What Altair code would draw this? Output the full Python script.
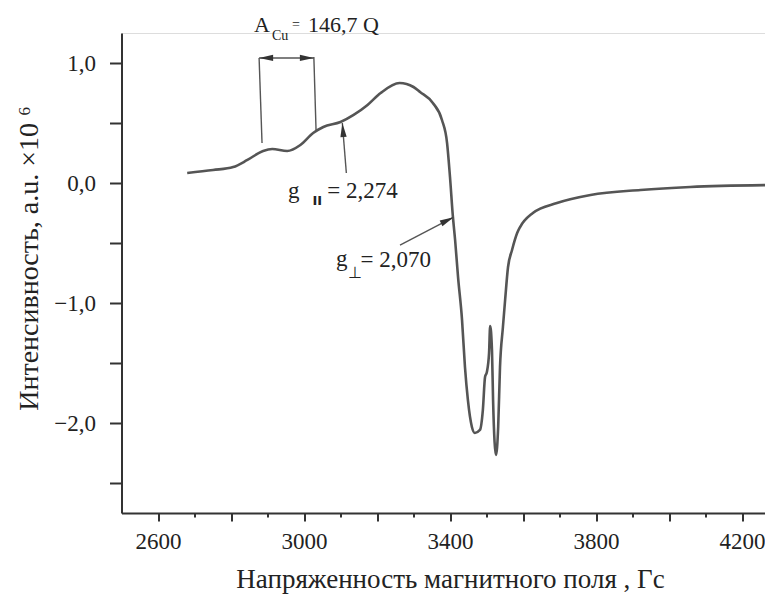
import altair as alt
import pandas as pd

# ---- data ----
field = [2680, 2751, 2806, 2845, 2888, 2913, 2954, 2990, 3025, 3053, 3100, 3136, 3174,
         3210, 3262, 3300, 3318, 3353, 3378, 3392, 3400, 3408, 3414, 3422, 3433, 3441, 3449,
         3460, 3468, 3482, 3490, 3496, 3501, 3507, 3510, 3515, 3518, 3526, 3532, 3537,
         3545, 3551, 3559, 3570, 3584, 3592, 3627, 3693, 3785, 3922, 4058, 4277]
intensity = [0.083, 0.108, 0.133, 0.192, 0.267, 0.283, 0.267, 0.317, 0.417, 0.467, 0.508,
             0.567, 0.65, 0.75, 0.833, 0.8, 0.758, 0.667, 0.525, 0.333, 0.05, -0.283,
             -0.475, -0.783, -1.142, -1.533, -1.808, -2.033, -2.083, -2.058, -1.892, -1.617,
             -1.575, -1.417, -1.192, -1.392, -1.808, -2.267, -2.033, -1.533, -1.2, -0.975,
             -0.7, -0.558, -0.417, -0.367, -0.25, -0.167, -0.1, -0.058, -0.033, -0.017]

x_ticks = list(range(2600, 4300, 100))
y_ticks = [-2.5 + 0.25 * i for i in range(16)]

# annotation segments (data coordinates)
seg_x1 = [2877, 3027, 2877, 3116, 3263]
seg_y1 = [1.042, 1.05, 1.042, 0.083, -0.517]
seg_x2 = [2885, 3033, 3027, 3105, 3410]
seg_y2 = [0.333, 0.442, 1.042, 0.5, -0.285]

# arrowheads
head_x = [2877, 3027, 3105, 3410]
head_y = [1.042, 1.042, 0.5, -0.285]
head_angle = [0, 180, 85, 154]

# annotation texts
txt = ["A", "Cu", "=", "146,7 Q", "g", "= 2,274", "g", "\u22a5", "= 2,070"]
txt_x = [2863, 2912, 2967, 3011, 2956, 3064, 3088, 3121, 3155]
txt_y = [1.258, 1.192, 1.2875, 1.258, -0.125, -0.125, -0.692, -0.79, -0.7]
txt_size = [22, 14, 14, 22, 23, 23, 23, 16, 23]

bold_txt = ["II"]
bold_x = [3023]
bold_y = [-0.183]

curve = pd.DataFrame({"field": field, "intensity": intensity})
segs = pd.DataFrame({"x": seg_x1, "y": seg_y1, "x2": seg_x2, "y2": seg_y2})
heads = pd.DataFrame({"x": head_x, "y": head_y, "angle": head_angle})
texts = pd.DataFrame({"t": txt, "x": txt_x, "y": txt_y, "s": txt_size})
btexts = pd.DataFrame({"t": bold_txt, "x": bold_x, "y": bold_y})

FONT = "'Liberation Serif', 'Times New Roman', Times, serif"
AX = "#333333"
TXT = "#222222"

PLOT_W = 643.5
X_MAX = 2500 + PLOT_W / 0.365

xscale = alt.Scale(domain=[2500, X_MAX], nice=False, zero=False)
yscale = alt.Scale(domain=[-2.75, 1.25], nice=False, zero=False)

x_axis = alt.Axis(
    values=x_ticks,
    labelExpr="(datum.value - 2600) % 400 === 0 ? '' + datum.value : ''",
    tickSize={"condition": {"test": "datum.value % 200 === 0", "value": 8}, "value": 4},
    tickWidth=2, tickColor=AX, domainColor=AX, domainWidth=2,
    labelFont=FONT, labelFontSize=23, labelColor=TXT, labelPadding=9,
    grid=False,
    title="Напряженность магнитного поля , Гс",
    titleFont=FONT, titleFontSize=27, titleFontWeight="normal", titleColor=TXT,
    titleX=328.5, titleAnchor="middle", titleAlign="center",
    titleY=74, titleBaseline="alphabetic",
)
y_axis = alt.Axis(
    values=y_ticks,
    labelExpr="abs(datum.value % 1) < 1e-9 ? replace(format(datum.value, '.1f'), '.', ',') : ''",
    tickSize={"condition": {"test": "abs(datum.value * 2 - round(datum.value * 2)) < 1e-6", "value": 12}, "value": 7},
    tickWidth=2, tickColor=AX, domainColor=AX, domainWidth=2,
    labelFont=FONT, labelFontSize=23, labelColor=TXT, labelPadding=14,
    grid=False,
    title="Интенсивность, a.u. ×10 ⁶",
    titleFont=FONT, titleFontSize=28, titleFontWeight="normal", titleColor=TXT,
    titleX=-84.5, titleY=225, titleAngle=270, titleAlign="center", titleBaseline="alphabetic",
)

line = alt.Chart(curve).mark_line(
    color="#555555", strokeWidth=2.6, interpolate="monotone", clip=True
).encode(
    x=alt.X("field:Q", scale=xscale, axis=x_axis),
    y=alt.Y("intensity:Q", scale=yscale, axis=y_axis),
)

rules = alt.Chart(segs).mark_rule(color="#555555", strokeWidth=1.4).encode(
    x="x:Q", y="y:Q", x2="x2:Q", y2="y2:Q"
)

ARROW = "M0,0 L2,-0.45 L2,0.45 Z"
arrows = alt.Chart(heads).mark_point(
    shape=ARROW, filled=True, size=196, color="#333333", opacity=1
).encode(
    x="x:Q", y="y:Q", angle=alt.Angle("angle:Q", scale=None)
)

labels = alt.Chart(texts).mark_text(
    font=FONT, align="left", baseline="alphabetic", color=TXT
).encode(
    x="x:Q", y="y:Q", text="t:N", size=alt.Size("s:Q", scale=None, legend=None)
)

blabels = alt.Chart(btexts).mark_text(
    font="DejaVu Sans", fontWeight="bold", fontSize=13, align="left", baseline="alphabetic", color=TXT
).encode(x="x:Q", y="y:Q", text="t:N")

chart = alt.layer(line, rules, arrows, labels, blabels).properties(
    width=PLOT_W, height=480,
    autosize=alt.AutoSizeParams(type="none"),
    padding={"left": 113.5, "top": 25, "right": 0, "bottom": 82},
).configure_view(strokeWidth=0).configure(font=FONT, background="white")

chart.save("out.html", embed_options={"renderer": "svg", "actions": False})
